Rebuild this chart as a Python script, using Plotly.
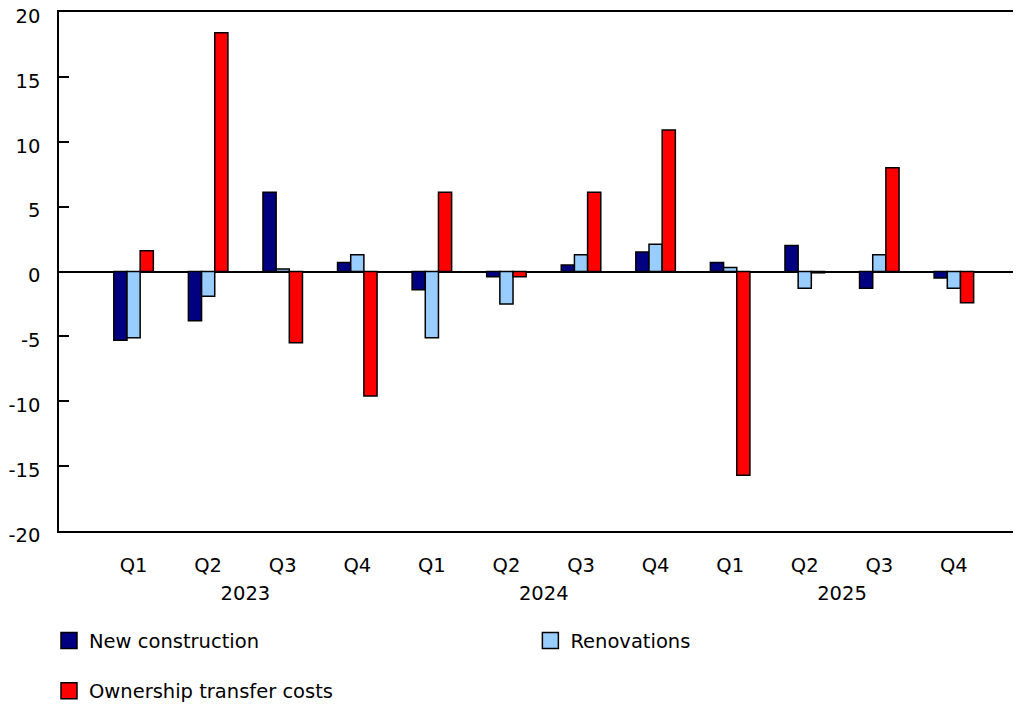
import plotly.graph_objects as go

years = ["2023", "2023", "2023", "2023", "2024", "2024", "2024", "2024", "2025", "2025", "2025", "2025"]
quarters = ["Q1", "Q2", "Q3", "Q4", "Q1", "Q2", "Q3", "Q4", "Q1", "Q2", "Q3", "Q4"]
new_construction = [-5.3, -3.8, 6.1, 0.7, -1.4, -0.4, 0.5, 1.5, 0.7, 2.0, -1.3, -0.5]
renovations = [-5.1, -1.9, 0.2, 1.3, -5.1, -2.5, 1.3, 2.1, 0.3, -1.3, 1.3, -1.3]
ownership_transfer = [1.6, 18.4, -5.5, -9.6, 6.1, -0.4, 6.1, 10.9, -15.7, -0.1, 8.0, -2.4]
y_tick_values = [-20, -15, -10, -5, 0, 5, 10, 15, 20]
y_tick_labels = ["-20", "-15", "-10", "-5", "0", "5", "10", "15", "20"]

series = [
    ("New construction", new_construction, "#000080", "legend"),
    ("Renovations", renovations, "#99CCFF", "legend2"),
    ("Ownership transfer costs", ownership_transfer, "#FF0000", "legend"),
]

# period index positions and year-centre positions derived from the data
pos = list(range(len(quarters)))
year_names = list(dict.fromkeys(years))
year_centres = [sum(p for p, y in zip(pos, years) if y == yn) / years.count(yn) for yn in year_names]

FONT = "DejaVu Sans"
FS = 19.5
fig = go.Figure()
for name, vals, color, leg in series:
    fig.add_trace(go.Bar(
        x=pos, y=vals, name=name,
        marker=dict(color=color, line=dict(color="#000000", width=1.5)),
        showlegend=False,
    ))
for name, vals, color, leg in series:
    fig.add_trace(go.Scatter(
        x=[None], y=[None], name=name, mode="markers",
        marker=dict(symbol="square", size=16, color=color,
                    line=dict(color="#000000", width=1.5)),
        legend=leg, legendgroup=name, showlegend=True,
    ))
# invisible trace to activate the year-label axis
fig.add_trace(go.Scatter(x=[None], y=[None], xaxis="x2", showlegend=False, hoverinfo="skip"))

fig.update_layout(
    width=1013, height=696,
    margin=dict(l=51, r=0, t=4, b=173, autoexpand=False),
    paper_bgcolor="white", plot_bgcolor="white",
    barmode="group", bargap=0.47, bargroupgap=0,
    font=dict(family=FONT, size=FS, color="#000000"),
    legend=dict(orientation="v", x=-0.0104, xanchor="left", y=-0.174, yanchor="top",
                tracegroupgap=22, font=dict(size=FS), itemsizing="trace"),
    legend2=dict(orientation="v", x=0.490, xanchor="left", y=-0.174, yanchor="top",
                 font=dict(size=FS), itemsizing="trace"),
    xaxis=dict(
        range=[-1, 11.9], tickvals=pos, ticktext=quarters, automargin=False,
        showline=True, linecolor="#000000", linewidth=1.5, mirror=True,
        ticks="", showgrid=False, zeroline=False, ticklabelstandoff=16,
        tickfont=dict(size=FS),
    ),
    xaxis2=dict(
        overlaying="x", matches="x", side="bottom", anchor="y",
        range=[-1, 11.9], tickvals=year_centres, ticktext=year_names, automargin=False,
        showline=False, ticks="", showgrid=False, zeroline=False, ticklabelstandoff=48,
        tickfont=dict(size=FS),
    ),
    yaxis=dict(
        range=[-20, 20], tickvals=y_tick_values, ticktext=y_tick_labels, automargin=False,
        showline=True, linecolor="#000000", linewidth=1.5, mirror=False,
        ticks="inside", ticklen=10, tickwidth=1.5, tickcolor="#000000",
        showgrid=False, zeroline=True, zerolinecolor="#000000", zerolinewidth=1.5,
        ticklabelstandoff=13, ticklabelshift=4, ticklabeloverflow="allow",
        tickfont=dict(size=FS),
    ),
)
fig.write_html("out.html")
